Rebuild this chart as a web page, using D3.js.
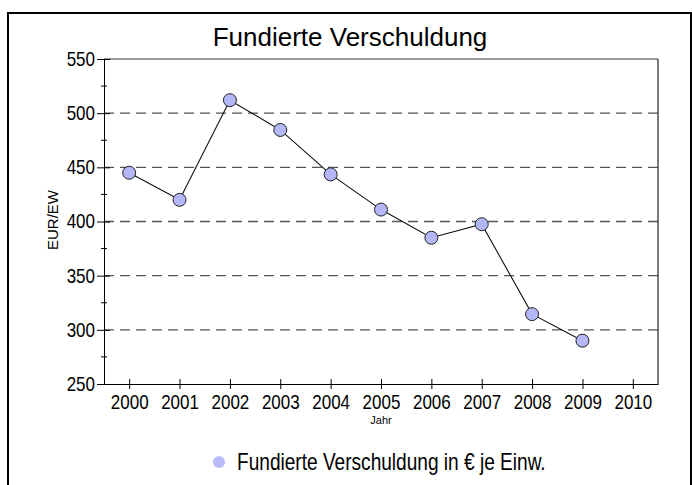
<!DOCTYPE html>
<html>
<head>
<meta charset="utf-8">
<script src="https://cdn.jsdelivr.net/npm/d3@7"></script>
<style>
  body { margin: 0; background: #fff; }
  svg { display: block; }
</style>
</head>
<body>
<svg id="chart" width="692" height="485"></svg>
<script>
// Chart data
const years = [2000, 2001, 2002, 2003, 2004, 2005, 2006, 2007, 2008, 2009];
const debtPerCapita = [445, 420, 512, 484.5, 443.5, 411, 385, 397.5, 314.5, 290];
const yTicks = [250, 300, 350, 400, 450, 500, 550];
const yMinorTicks = [275, 325, 375, 425, 475, 525];
const xTicks = [2000, 2001, 2002, 2003, 2004, 2005, 2006, 2007, 2008, 2009, 2010];

const titleText = "Fundierte Verschuldung";
const yLabel = "EUR/EW";
const xLabel = "Jahr";
const legendText = "Fundierte Verschuldung in \u20AC je Einw.";

const SANS = '"Liberation Sans", Arial, sans-serif';
const NARROW_SCALE = 0.85; // no narrow font installed, squeeze text instead
const dotFill = "#b3b6f7";

const svg = d3.select("#chart");

// Outer frame
svg.append("rect")
    .attr("x", 8).attr("y", 13)
    .attr("width", 683).attr("height", 480)
    .attr("fill", "none")
    .attr("stroke", "#000")
    .attr("stroke-width", 2);

// Scales
const x = d3.scaleLinear().domain([1999.5, 2010.5]).range([104, 658]);
const y = d3.scaleLinear().domain([250, 550]).range([384, 59]);

// Title
svg.append("text")
    .attr("x", 350).attr("y", 46)
    .attr("text-anchor", "middle")
    .style("font-family", SANS)
    .style("font-size", "26px")
    .text(titleText);

// Grid lines (dashed)
svg.append("g")
    .selectAll("line")
    .data(yTicks.filter(d => d > 250 && d < 550))
    .join("line")
    .attr("x1", 104).attr("x2", 658)
    .attr("y1", d => y(d)).attr("y2", d => y(d))
    .attr("stroke", "#555")
    .attr("stroke-width", 1.3)
    .attr("stroke-dasharray", "10,6");

// Plot frame top + right
svg.append("line")
    .attr("x1", 104).attr("x2", 658)
    .attr("y1", y(550)).attr("y2", y(550))
    .attr("stroke", "#777").attr("stroke-width", 1.5);
svg.append("line")
    .attr("x1", 658).attr("x2", 658)
    .attr("y1", y(550)).attr("y2", y(250))
    .attr("stroke", "#222").attr("stroke-width", 1.2);

// Y axis
const yAxis = svg.append("g")
    .attr("transform", "translate(104,0)")
    .call(d3.axisLeft(y).tickValues(yTicks).tickSize(0).tickPadding(0));
yAxis.select(".domain").attr("stroke", "#000");
yAxis.selectAll(".tick line").attr("x1", -7).attr("x2", 6).attr("stroke", "#000");
yAxis.selectAll(".tick text")
    .attr("x", -9 / NARROW_SCALE)
    .attr("transform", `scale(${NARROW_SCALE},1)`)
    .style("font-family", SANS)
    .style("font-size", "20px")
    .attr("fill", "#000");

// Minor y ticks
svg.append("g")
    .selectAll("line")
    .data(yMinorTicks)
    .join("line")
    .attr("x1", 101).attr("x2", 107)
    .attr("y1", d => y(d)).attr("y2", d => y(d))
    .attr("stroke", "#000");

// X axis
const xAxis = svg.append("g")
    .attr("transform", "translate(0,384)")
    .call(d3.axisBottom(x).tickValues(xTicks).tickFormat(d3.format("d")).tickSize(0).tickPadding(11));
xAxis.select(".domain").attr("stroke", "#000");
xAxis.selectAll(".tick line").attr("y1", -5).attr("y2", 5).attr("stroke", "#000");
xAxis.selectAll(".tick text")
    .attr("transform", `scale(${NARROW_SCALE},1)`)
    .style("font-family", SANS)
    .style("font-size", "20px")
    .attr("fill", "#000");

// Axis labels
svg.append("text")
    .attr("transform", "translate(58,220) rotate(-90)")
    .attr("text-anchor", "middle")
    .style("font-family", SANS)
    .style("font-size", "15px")
    .text(yLabel);

svg.append("text")
    .attr("x", 381).attr("y", 424)
    .attr("text-anchor", "middle")
    .style("font-family", SANS)
    .style("font-size", "11px")
    .text(xLabel);

// Line + points
const points = years.map((yr, i) => ({ year: yr, value: debtPerCapita[i] }));

const lineGen = d3.line()
    .x(d => x(d.year))
    .y(d => y(d.value));

svg.append("path")
    .datum(points)
    .attr("d", lineGen)
    .attr("fill", "none")
    .attr("stroke", "#111")
    .attr("stroke-width", 1.1);

svg.append("g")
    .selectAll("circle")
    .data(points)
    .join("circle")
    .attr("cx", d => x(d.year))
    .attr("cy", d => y(d.value))
    .attr("r", 6.5)
    .attr("fill", dotFill)
    .attr("stroke", "#222")
    .attr("stroke-width", 1);

// Legend
const legend = svg.append("g");
legend.append("circle")
    .attr("cx", 219).attr("cy", 462)
    .attr("r", 6)
    .attr("fill", "#b8bbf8");
legend.append("text")
    .attr("transform", "translate(237,470) scale(0.83,1)")
    .style("font-family", SANS)
    .style("font-size", "23px")
    .text(legendText);
</script>
</body>
</html>
